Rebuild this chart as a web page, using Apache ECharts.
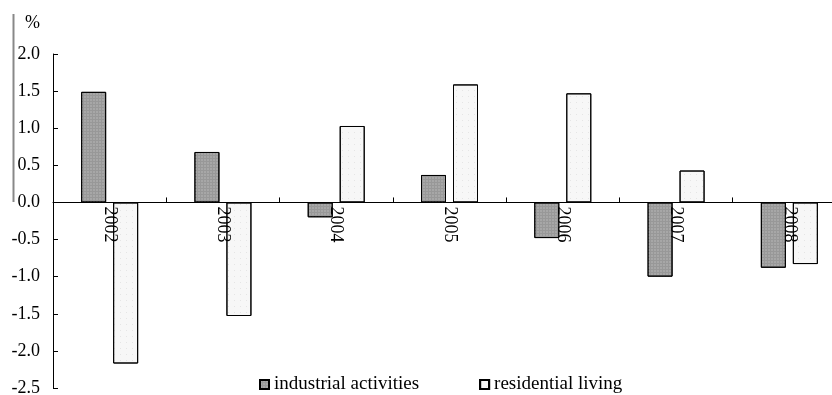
<!DOCTYPE html>
<html><head><meta charset="utf-8">
<script src="https://cdn.jsdelivr.net/npm/echarts@6/dist/echarts.min.js"></script>
<style>html,body{margin:0;padding:0;background:#fff}#c{width:832px;height:395px}</style>
</head><body><div id="c"></div>
<script>
const categories = ['2002','2003','2004','2005','2006','2007','2008'];
const industrial = [1.49, 0.68, -0.20, 0.37, -0.48, -1.00, -0.88];
const residential = [-2.17, -1.53, 1.03, 1.59, 1.47, 0.43, -0.83];
const seriesNames = ['industrial activities', 'residential living'];
const yMin = -2.5, yMax = 2.0;

const font = 'Liberation Serif, Times New Roman, serif';
const gridTop = 54, gridBottom = 7, H = 395;
const zeroOffset = -(H - gridTop - gridBottom) * (0 - yMin) / (yMax - yMin);
const chart = echarts.init(document.getElementById('c'));
chart.setOption({
  animation: false,
  backgroundColor: '#fff',
  grid: {left: 53, right: -14, top: gridTop, bottom: gridBottom, containLabel: false, outerBoundsMode: 'none'},
  legend: {
    bottom: -4, left: 254, itemGap: 60, itemWidth: 9, itemHeight: 9,
    textStyle: {fontFamily: font, fontSize: 19, color: '#000'},
    data: seriesNames.map(n => ({name: n, icon: 'rect'}))
  },
  xAxis: {
    type: 'category', data: categories, offset: zeroOffset,
    axisLine: {onZero: false, lineStyle: {color: '#000', width: 1}},
    axisTick: {show: true, inside: true, length: 5, lineStyle: {color: '#000'}},
    axisLabel: {rotate: -90, margin: 4, fontFamily: font, fontSize: 18, color: '#000'},
    z: 10
  },
  yAxis: {
    type: 'value', min: yMin, max: yMax, interval: 0.5,
    axisLine: {show: true, lineStyle: {color: '#000', width: 1}},
    axisTick: {show: true, inside: true, length: 5, lineStyle: {color: '#000'}},
    splitLine: {show: false},
    axisLabel: {margin: 13, fontFamily: font, fontSize: 18, color: '#000',
      formatter: v => v.toFixed(1)}
  },
  graphic: [
    {type: 'text', left: 25, top: 14, style: {text: '%', fontFamily: font, fontSize: 18, fill: '#000'}},
    {type: 'line', shape: {x1: 13.5, y1: 14, x2: 13.5, y2: 202}, style: {stroke: '#888', lineWidth: 2}}
  ],
  series: [
    {
      name: seriesNames[0], type: 'bar', data: industrial, barWidth: 25, barGap: '28%',
      itemStyle: {color: '#989898', borderColor: '#000', borderWidth: 1,
        decal: {symbol: 'rect', symbolSize: 0.6, color: 'rgba(225,225,225,0.7)', dashArrayX: [2, 1], dashArrayY: [2, 1], rotation: 0}}
    },
    {
      name: seriesNames[1], type: 'bar', data: residential, barWidth: 25,
      itemStyle: {color: '#f7f7f7', borderColor: '#000', borderWidth: 1,
        decal: {symbol: 'circle', symbolSize: 0.5, color: 'rgba(120,120,120,0.8)', dashArrayX: [1, 5], dashArrayY: [1, 5], rotation: 0}}
    }
  ]
});
</script></body></html>
